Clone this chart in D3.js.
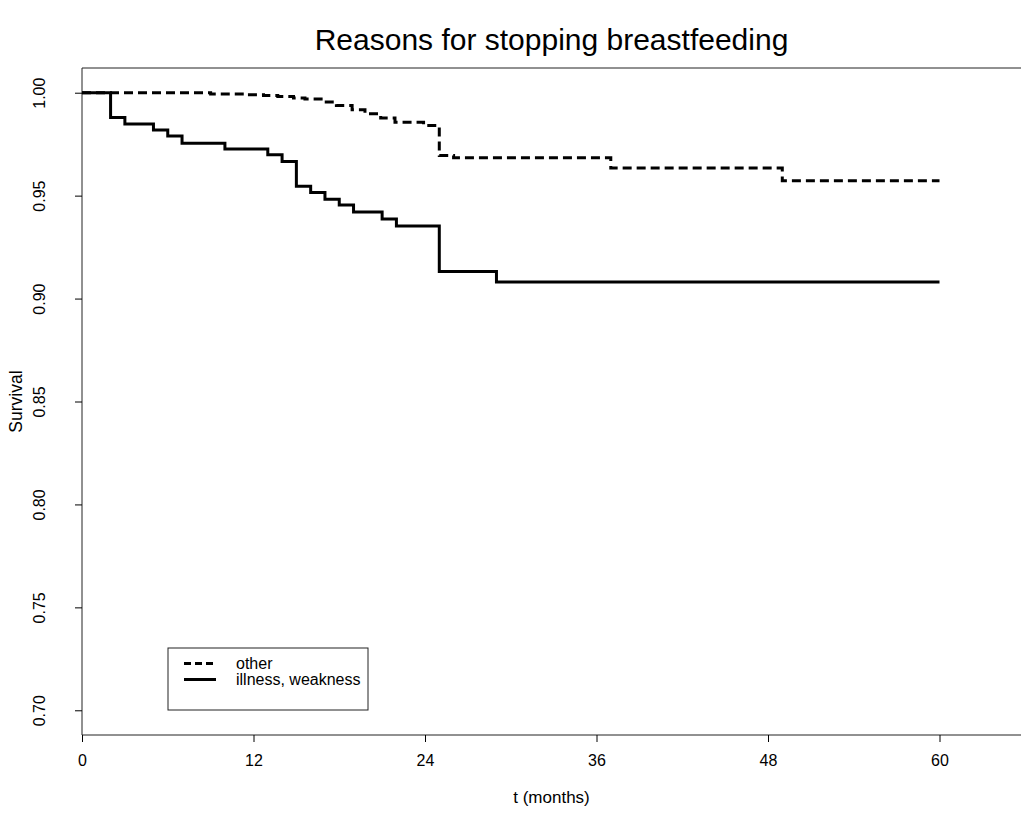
<!DOCTYPE html>
<html>
<head>
<meta charset="utf-8">
<script src="https://cdn.jsdelivr.net/npm/d3@7"></script>
<style>
    body { margin: 0; background: #fff; }
    text { font-family: "Liberation Sans", Arial, sans-serif; fill: #000; }
</style>
</head>
<body>
<div id="chart"></div>
<script>

// survival curves (time in months)
const otherTimes = [0, 9, 11.5, 12.7, 13.7, 14.8, 15.6, 16.9, 17.8, 18.9, 19.8, 20.9, 21.9, 23.9, 25, 26, 37, 49, 60]
const otherSurv = [1.0, 0.9994, 0.999, 0.9987, 0.9982, 0.9974, 0.9969, 0.9955, 0.9938, 0.9917, 0.9898, 0.9877, 0.9857, 0.9841, 0.9695, 0.9684, 0.9634, 0.9572, 0.9572]

const illnessTimes = [0, 2, 3, 5, 6, 7, 10, 13, 14, 15, 16, 17, 18, 19, 21, 22, 25, 29, 60]
const illnessSurv = [1.0, 0.988, 0.9848, 0.9819, 0.979, 0.9755, 0.9726, 0.9699, 0.9666, 0.9545, 0.9515, 0.9483, 0.9454, 0.942, 0.9386, 0.9353, 0.9131, 0.9081, 0.9081]

const xTicks = [0, 12, 24, 36, 48, 60]
const yTicks = [0.70, 0.75, 0.80, 0.85, 0.90, 0.95, 1.00]

const seriesNames = ["other", "illness, weakness"]
const seriesDash = ["9,5", null]

const W = 1021, H = 814
const plot = {left: 82, right: 1021, top: 68, bottom: 735}

let svg = d3.select("#chart").append("svg")
    .attr("width", W)
    .attr("height", H)

let x = d3.scaleLinear()
    .domain([0, 60])
    .range([82, 939.5])

let y = d3.scaleLinear()
    .domain([0.688, 1.012])
    .range([plot.bottom, plot.top])

// box (right side runs off the canvas)
svg.append("path")
    .attr("d", `M${plot.right},${plot.top} H${plot.left} V${plot.bottom} H${plot.right}`)
    .attr("fill", "none")
    .attr("stroke", "#222")
    .attr("stroke-width", 1)

// axes
let xAxis = svg.append("g")
    .attr("transform", `translate(0,${plot.bottom})`)
    .call(d3.axisBottom(x).tickValues(xTicks).tickSize(7).tickSizeOuter(0).tickFormat(d3.format("d")))
xAxis.select(".domain").remove()
xAxis.selectAll("text")
    .attr("y", 20)
    .attr("dy", "0.71em")
    .style("font-size", "16px")
    .style("font-family", "Liberation Sans, Arial, sans-serif")

let yAxis = svg.append("g")
    .attr("transform", `translate(${plot.left},0)`)
    .call(d3.axisLeft(y).tickValues(yTicks).tickSize(7).tickSizeOuter(0).tickFormat(d3.format(".2f")))
yAxis.select(".domain").remove()
yAxis.selectAll("text")
    .attr("x", null)
    .attr("dy", null)
    .attr("transform", "translate(-41,0) rotate(-90)")
    .attr("text-anchor", "middle")
    .attr("dominant-baseline", "middle")
    .style("font-size", "16px")
    .style("font-family", "Liberation Sans, Arial, sans-serif")

// titles
svg.append("text")
    .attr("x", (plot.left + plot.right) / 2)
    .attr("y", 50)
    .attr("text-anchor", "middle")
    .style("font-size", "30px")
    .text("Reasons for stopping breastfeeding")

svg.append("text")
    .attr("x", (plot.left + plot.right) / 2)
    .attr("y", 803)
    .attr("text-anchor", "middle")
    .style("font-size", "17px")
    .text("t (months)")

svg.append("text")
    .attr("transform", `translate(22,${(plot.top + plot.bottom) / 2}) rotate(-90)`)
    .attr("text-anchor", "middle")
    .style("font-size", "17.5px")
    .text("Survival")

// curves
let line = d3.line()
    .x(d => x(d[0]))
    .y(d => y(d[1]))
    .curve(d3.curveStepAfter)

let series = [
    d3.zip(otherTimes, otherSurv),
    d3.zip(illnessTimes, illnessSurv)
]

svg.selectAll(".curve")
    .data(series)
    .enter()
    .append("path")
    .attr("class", "curve")
    .attr("d", line)
    .attr("fill", "none")
    .attr("stroke", "#000")
    .attr("stroke-width", 3)
    .attr("stroke-dasharray", (d, i) => seriesDash[i])

// legend
let legend = svg.append("g")
legend.append("rect")
    .attr("x", 168)
    .attr("y", 648)
    .attr("width", 200)
    .attr("height", 62)
    .attr("fill", "none")
    .attr("stroke", "#222")
    .attr("stroke-width", 1)

seriesNames.forEach((name, i) => {
    let ly = 663.5 + i * 16
    legend.append("line")
        .attr("x1", 184).attr("x2", 216)
        .attr("y1", ly).attr("y2", ly)
        .attr("stroke", "#000")
        .attr("stroke-width", 3)
        .attr("stroke-dasharray", seriesDash[i] ? "7,4" : null)
    legend.append("text")
        .attr("x", 236)
        .attr("y", ly + 5.5)
        .style("font-size", "16px")
        .text(name)
})

</script>
</body>
</html>
